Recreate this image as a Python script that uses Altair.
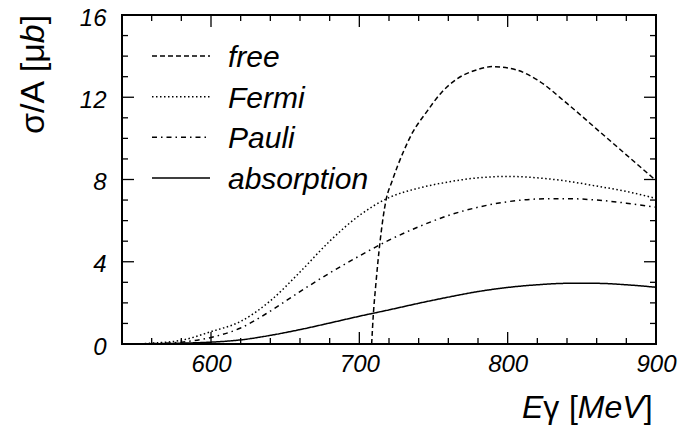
import altair as alt
import pandas as pd

FONT = "Liberation Sans"

series = ["free", "Fermi", "Pauli", "absorption"]
dashes = [[5, 3], [1.5, 2.5], [5, 4, 1.5, 4], [1, 0]]

# photon energy grid (MeV) for the three in-medium curves
energy = [550, 560, 580, 600, 620, 640, 660, 680, 700, 720, 740, 760,
          780, 800, 820, 840, 860, 880, 900]
fermi = [0.0, 0.04, 0.18, 0.6, 1.1, 2.1, 3.5, 5.0, 6.25, 7.12, 7.58, 7.88,
         8.08, 8.15, 8.08, 7.92, 7.68, 7.42, 7.08]
pauli = [0.0, 0.02, 0.09, 0.32, 0.78, 1.6, 2.55, 3.45, 4.28, 5.05, 5.7, 6.25,
         6.65, 6.92, 7.05, 7.07, 7.0, 6.85, 6.65]
absorption = [0.0, 0.01, 0.04, 0.09, 0.2, 0.42, 0.7, 1.02, 1.35, 1.66, 1.98,
              2.28, 2.55, 2.75, 2.88, 2.95, 2.95, 2.88, 2.76]

# free-nucleon curve starts at its threshold
energy_free = [708.3, 709.5, 711, 714, 718, 722, 726, 730, 736, 745, 755,
               765, 779, 790, 806, 820, 840, 860, 880, 900]
free = [0.0, 1.5, 2.8, 5.0, 7.0, 7.9, 8.7, 9.4, 10.3, 11.25, 12.2, 12.85,
        13.33, 13.49, 13.33, 12.84, 11.7, 10.45, 9.2, 7.95]

x_labels = [600, 700, 800, 900]
y_labels = [0, 4, 8, 12, 16]

W, H = 534, 329

rows = []
for name, xs, ys in [("free", energy_free, free), ("Fermi", energy, fermi),
                     ("Pauli", energy, pauli), ("absorption", energy, absorption)]:
    rows += [{"E": e, "sigma": s, "series": name} for e, s in zip(xs, ys)]
curves = pd.DataFrame(rows)

xscale = alt.Scale(domain=[540, 900], nice=False, zero=False)
yscale = alt.Scale(domain=[0, 16], nice=False)
dash_scale = alt.Scale(domain=series, range=dashes)

# one axis definition per channel, reused by every layer so they merge cleanly
xaxis = alt.Axis(values=x_labels, ticks=False, domain=False, grid=False,
                 title=None, labelFont=FONT, labelFontSize=24,
                 labelFontStyle="italic", labelColor="black",
                 labelPadding=8, labelFlush=False)
yaxis = alt.Axis(values=y_labels, ticks=False, domain=False, grid=False,
                 title=None, labelFont=FONT, labelFontSize=24,
                 labelFontStyle="italic", labelColor="black",
                 labelPadding=16, labelOffset=3)

lines = alt.Chart(curves).mark_line(
    color="black", strokeWidth=1.5, interpolate="monotone"
).encode(
    x=alt.X("E:Q", scale=xscale, axis=xaxis),
    y=alt.Y("sigma:Q", scale=yscale, axis=yaxis),
    strokeDash=alt.StrokeDash("series:N", scale=dash_scale, legend=None),
    detail="series:N",
)

# inward ticks on all four sides
x_major = [600, 700, 800]
x_minor = [e for e in range(560, 900, 20) if e % 100]
y_major = [4, 8, 12]
y_minor = [v for v in range(1, 16) if v % 4]


def xticks(vals, length):
    base = alt.Chart(pd.DataFrame({"E": vals})).mark_rule(color="black", strokeWidth=1.3)
    xe = alt.X("E:Q", scale=xscale, axis=xaxis)
    return [base.encode(x=xe, y=alt.value(H), y2=alt.value(H - length)),
            base.encode(x=xe, y=alt.value(0), y2=alt.value(length))]


def yticks(vals, length):
    base = alt.Chart(pd.DataFrame({"sigma": vals})).mark_rule(color="black", strokeWidth=1.3)
    yv = alt.Y("sigma:Q", scale=yscale, axis=yaxis)
    return [base.encode(y=yv, x=alt.value(0), x2=alt.value(length)),
            base.encode(y=yv, x=alt.value(W), x2=alt.value(W - length))]


ticks = xticks(x_major, 12) + xticks(x_minor, 6) + yticks(y_major, 12) + yticks(y_minor, 6)

# axis titles assembled from upright and italic pieces
ADV = {"E": 0.667, "M": 0.833, "e": 0.556, "V": 0.667, "[": 0.278, "]": 0.278,
       " ": 0.3, "b": 0.556, "A": 0.667, "/": 0.278, "γ": 0.5, "σ": 0.57, "μ": 0.576}


def title_pieces(pieces, x0, y0, size, angle=0):
    out = []
    pos = 0.0
    for txt, italic in pieces:
        lead = len(txt) - len(txt.lstrip(" "))
        pos += lead * ADV[" "] * size
        body = txt.strip(" ")
        if angle == 0:
            x, y = x0 + pos, y0
        else:
            x, y = x0, y0 - pos
        out.append(
            alt.Chart(pd.DataFrame({"t": [body]})).mark_text(
                font=FONT, fontSize=size, fontStyle="italic" if italic else "normal",
                align="left", baseline="alphabetic", angle=angle, color="black"
            ).encode(x=alt.value(x), y=alt.value(y), text="t:N")
        )
        pos += sum(ADV.get(c, 0.55) for c in body) * size
    return out


x_title = title_pieces([("E", True), ("γ", False), (" [", False), ("MeV", True), ("]", False)],
                       400, 403, 32)
y_title = title_pieces([("σ/A", False), (" [μ", False), ("b", True), ("]", False)],
                       -78, 119, 34, angle=270)

main = alt.layer(lines, *ticks, *x_title, *y_title)

# legend drawn inside the frame
leg = pd.DataFrame({"series": series})
leg_y = alt.Y("series:N", scale=alt.Scale(type="point", domain=series, range=[41, 163], padding=0),
              axis=None)
leg_rules = alt.Chart(leg).mark_rule(color="black", strokeWidth=1.5).encode(
    y=leg_y, x=alt.value(30), x2=alt.value(88),
    strokeDash=alt.StrokeDash("series:N", scale=dash_scale, legend=None),
)
leg_text = alt.Chart(leg).mark_text(
    font=FONT, fontSize=30, fontStyle="italic", align="left", baseline="middle",
    color="black", dy=2
).encode(y=leg_y, x=alt.value(106), text="series:N")
legend = alt.layer(leg_rules, leg_text)

chart = alt.layer(main, legend).resolve_scale(y="independent").properties(
    width=W, height=H,
    padding={"left": 122, "top": 15, "right": 24, "bottom": 84},
    autosize=alt.AutoSizeParams(type="none"),
).configure_view(stroke="black", strokeWidth=2)

chart.save("out.html", embed_options={"renderer": "svg", "actions": False})
